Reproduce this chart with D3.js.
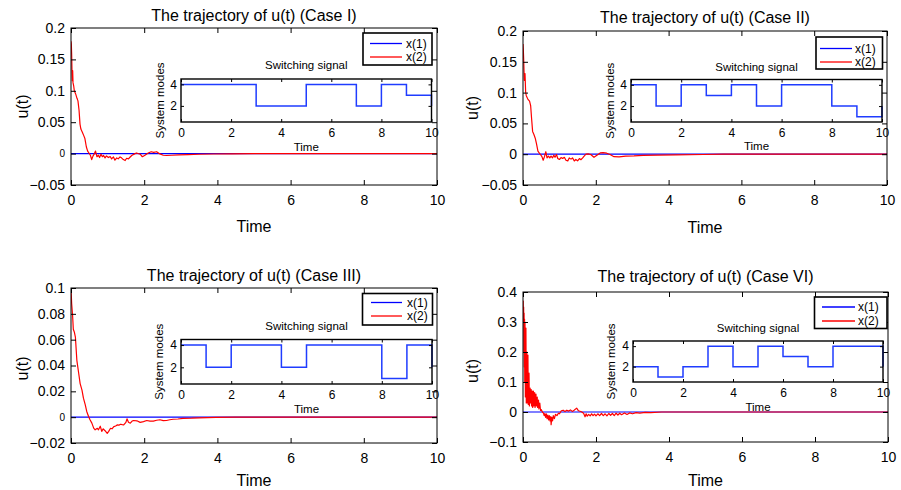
<!DOCTYPE html>
<html>
<head>
<meta charset="utf-8">
<script src="https://cdn.jsdelivr.net/npm/d3@7"></script>
<style>
  body { margin: 0; background: #fff; }
  svg { display: block; font-family: "Liberation Sans", Arial, Helvetica, sans-serif; }
</style>
</head>
<body>
<svg id="fig" width="901" height="490"></svg>
<script>
// ---------------- data ----------------
const timeTicks = [0, 2, 4, 6, 8, 10];
const modeTicks = [2, 4];
const modeTimes = [0, 1, 2, 3, 4, 5, 6, 7, 8, 9, 10];
const seriesNames = ["x(1)", "x(2)"];
const caseTitles = [
  "The trajectory of u(t) (Case I)",
  "The trajectory of u(t) (Case II)",
  "The trajectory of u(t) (Case III)",
  "The trajectory of u(t) (Case VI)"
];
const uTicksI = [-0.05, 0, 0.05, 0.1, 0.15, 0.2];
const uTicksII = [-0.05, 0, 0.05, 0.1, 0.15, 0.2];
const uTicksIII = [-0.02, 0, 0.02, 0.04, 0.06, 0.08, 0.1];
const uTicksVI = [-0.1, 0, 0.1, 0.2, 0.3, 0.4];

// x(1) sits on zero over the whole run
const x1Flat = [[0, 0], [10, 0]];

// x(2), [time, value]
const x2CaseI = [
  [0, 0.179], [0.009, 0.174], [0.018, 0.158], [0.027, 0.132], [0.036, 0.116], [0.046, 0.132],
  [0.055, 0.113], [0.073, 0.108], [0.091, 0.1], [0.127, 0.095], [0.164, 0.088], [0.19, 0.084],
  [0.22, 0.069], [0.246, 0.047], [0.27, 0.039], [0.31, 0.034], [0.346, 0.029], [0.38, 0.024],
  [0.42, 0.0105], [0.455, 0.004], [0.49, 0.001], [0.53, -0.0026], [0.565, -0.0095], [0.6, -0.004],
  [0.64, 0], [0.67, 0.004], [0.71, -0.005], [0.75, -0.0026], [0.78, -0.0063], [0.82, -0.001],
  [0.856, -0.005], [0.89, -0.003], [0.93, -0.0068], [0.97, -0.0037], [1.02, -0.0063], [1.07, -0.0047],
  [1.11, -0.0084], [1.16, -0.0053], [1.2, -0.0105], [1.25, -0.0068], [1.29, -0.0084], [1.34, -0.0053],
  [1.38, -0.0068], [1.43, -0.0095], [1.48, -0.011], [1.52, -0.0074], [1.57, -0.0084], [1.61, -0.0058],
  [1.66, -0.003], [1.7, -0.0016], [1.75, 0], [1.79, 0.001], [1.89, -0.001], [1.95, -0.005],
  [2.02, -0.0026], [2.11, 0.001], [2.19, 0.003], [2.26, 0.002], [2.34, 0.003], [2.43, -0.0005],
  [2.52, -0.0026], [2.61, -0.003], [2.75, -0.0026], [2.95, -0.002], [3.2, -0.0015], [3.5, -0.001],
  [3.9, -0.0006], [4.4, -0.0003], [5, 0], [10, 0]
];
const x2CaseII = [
  [0, 0.179], [0.009, 0.169], [0.018, 0.155], [0.036, 0.12], [0.055, 0.131], [0.073, 0.101],
  [0.09, 0.095], [0.136, 0.089], [0.18, 0.086], [0.21, 0.079], [0.236, 0.058], [0.264, 0.037],
  [0.3, 0.032], [0.336, 0.026], [0.37, 0.017], [0.41, 0.005], [0.445, 0.002], [0.48, -0.0005],
  [0.52, -0.004], [0.555, -0.0097], [0.59, -0.004], [0.627, 0.004], [0.66, -0.006], [0.7, -0.003],
  [0.736, -0.006], [0.77, -0.003], [0.81, -0.006], [0.845, -0.0016], [0.88, -0.005], [0.92, -0.0005],
  [0.955, -0.007], [1.0, -0.0086], [1.045, -0.0054], [1.09, -0.007], [1.136, -0.005], [1.18, -0.0097],
  [1.23, -0.011], [1.27, -0.006], [1.32, -0.008], [1.36, -0.006], [1.41, -0.011], [1.45, -0.0086],
  [1.5, -0.0108], [1.55, -0.007], [1.59, -0.009], [1.64, -0.006], [1.68, -0.003], [1.73, 0],
  [1.79, 0.0005], [1.86, -0.0005], [1.95, -0.005], [2.03, -0.0016], [2.12, 0.002], [2.2, 0.0027],
  [2.3, 0.0016], [2.39, -0.0005], [2.5, -0.004], [2.64, -0.0043], [2.82, -0.003], [3.05, -0.0027],
  [3.3, -0.002], [3.7, -0.0016], [4.2, -0.001], [4.95, -0.0005], [5.5, 0], [10, 0]
];
const x2CaseIII = [
  [0, 0.0986], [0.009, 0.094], [0.018, 0.088], [0.045, 0.078], [0.063, 0.068], [0.09, 0.066],
  [0.12, 0.062], [0.16, 0.044], [0.21, 0.034], [0.25, 0.026], [0.3, 0.021], [0.34, 0.0147],
  [0.39, 0.0095], [0.43, 0.0044], [0.48, 0.0005], [0.52, -0.002], [0.57, -0.0046], [0.62, -0.0085],
  [0.66, -0.0098], [0.7, -0.009], [0.72, -0.0086], [0.75, -0.0098], [0.8, -0.007], [0.84, -0.011],
  [0.88, -0.009], [0.93, -0.0105], [0.99, -0.0125], [1.03, -0.011], [1.08, -0.0086], [1.12, -0.009],
  [1.17, -0.0073], [1.22, -0.0068], [1.26, -0.006], [1.31, -0.0062], [1.35, -0.0055], [1.4, -0.0058],
  [1.44, -0.006], [1.5, -0.004], [1.53, -0.0013], [1.57, -0.004], [1.62, -0.0047], [1.67, -0.003],
  [1.71, -0.0026], [1.8, -0.0028], [1.89, -0.004], [1.98, -0.0034], [2.07, -0.0026], [2.16, -0.003],
  [2.25, -0.003], [2.34, -0.0024], [2.43, -0.002], [2.52, -0.0027], [2.61, -0.0026], [2.7, -0.002],
  [2.79, -0.0016], [2.92, -0.0014], [3.06, -0.001], [3.3, -0.0008], [3.5, -0.0005], [3.96, -0.0002],
  [4.5, 0], [10, 0]
];
const x2CaseVI = [
  [0, 0.3], [0.005, 0.37], [0.012, 0.3], [0.018, 0.35], [0.024, 0.2], [0.03, 0.33],
  [0.036, 0.15], [0.042, 0.31], [0.048, 0.1], [0.055, 0.3], [0.065, 0.05], [0.08, 0.28],
  [0.09, 0.03], [0.105, 0.2], [0.115, 0.03], [0.135, 0.19], [0.145, 0.025], [0.165, 0.13],
  [0.175, 0.02], [0.195, 0.08], [0.205, 0.03], [0.225, 0.075], [0.235, 0.02], [0.255, 0.07],
  [0.265, 0.015], [0.285, 0.07], [0.295, 0.02], [0.32, 0.065], [0.33, 0.015], [0.355, 0.06],
  [0.365, 0.02], [0.39, 0.05], [0.4, 0.015], [0.425, 0.04], [0.435, 0.01], [0.46, 0.03],
  [0.48, 0.005], [0.5, 0.008],
  [0.53, 0.0], [0.56, -0.004], [0.58, -0.012], [0.6, -0.005], [0.62, -0.018], [0.64, -0.006],
  [0.66, -0.022], [0.68, -0.01], [0.7, -0.026], [0.72, -0.012], [0.74, -0.03], [0.76, -0.015],
  [0.77, -0.042], [0.79, -0.018], [0.81, -0.03], [0.83, -0.012], [0.86, -0.022], [0.89, -0.008],
  [0.93, -0.012], [0.97, -0.004], [1.0, -0.006], [1.05, 0.004], [1.1, 0.006], [1.15, 0.002],
  [1.2, 0.006], [1.25, 0.003], [1.3, 0.007], [1.35, 0.002], [1.4, 0.006], [1.47, 0.013],
  [1.52, 0.004], [1.6, 0.001], [1.66, -0.004], [1.7, -0.016], [1.73, -0.006], [1.76, -0.014],
  [1.8, -0.008], [1.84, -0.013], [1.88, -0.006], [1.92, -0.012], [1.96, -0.007], [2.0, -0.013],
  [2.05, -0.006], [2.1, -0.012], [2.15, -0.005], [2.2, -0.012], [2.25, -0.006], [2.3, -0.013],
  [2.35, -0.005], [2.4, -0.011], [2.45, -0.005], [2.5, -0.012], [2.55, -0.004], [2.6, -0.01],
  [2.65, -0.004], [2.7, -0.009], [2.78, -0.003], [2.85, -0.008], [2.92, -0.003], [3.0, -0.006],
  [3.1, -0.002], [3.2, -0.004], [3.35, -0.001], [3.5, -0.002], [3.8, 0], [10, 0]
];

// switching signal: active mode from each whole second on (last entry is the value at t = 10)
const modesCaseI = [4, 4, 4, 2, 2, 4, 4, 2, 4, 3, 2];
const modesCaseII = [4, 2, 4, 3, 4, 2, 4, 4, 2, 1, 2];
const modesCaseIII = [4, 2, 4, 4, 2, 4, 4, 4, 1, 4, 2];
const modesCaseVI = [2, 1, 2, 4, 2, 4, 3, 2, 4, 4, 2];

// ---------------- layout ----------------
const panels = [
  { title: caseTitles[0], traj: x2CaseI, modes: modesCaseI, uTicks: uTicksI, uDomain: [-0.05, 0.2], smallZero: true,
    plot: { x0: 71, x1: 437, y0: 28, y1: 185 }, titleY: 21, xlabY: 232, ylabX: 28, ylabDy: 0,
    inset: { x0: 181, x1: 431.5, y0: 79, y1: 122, titleY: 69, tickY: 136.7, xlabY: 150.5, ylabX: 163.5 },
    legend: { x0: 363, x1: 432, y0: 33, y1: 65, rows: [43.5, 57], l0: 370, l1: 402, tx: 406 } },
  { title: caseTitles[1], traj: x2CaseII, modes: modesCaseII, uTicks: uTicksII, uDomain: [-0.05, 0.2], smallZero: false,
    plot: { x0: 523, x1: 887, y0: 31, y1: 185 }, titleY: 22.5, xlabY: 233, ylabX: 478, ylabDy: 0,
    inset: { x0: 631, x1: 882, y0: 79.5, y1: 122, titleY: 71, tickY: 136.5, xlabY: 150, ylabX: 613.5 },
    legend: { x0: 816, x1: 882.5, y0: 37, y1: 69, rows: [48.5, 62], l0: 820, l1: 852, tx: 855 } },
  { title: caseTitles[2], traj: x2CaseIII, modes: modesCaseIII, uTicks: uTicksIII, uDomain: [-0.02, 0.1], smallZero: true,
    plot: { x0: 71, x1: 437, y0: 288, y1: 443 }, titleY: 281, xlabY: 486, ylabX: 28, ylabDy: 3,
    inset: { x0: 181, x1: 432, y0: 339.5, y1: 384, titleY: 330, tickY: 399, xlabY: 412.5, ylabX: 163 },
    legend: { x0: 362.5, x1: 432.5, y0: 293.5, y1: 325, rows: [302.5, 316], l0: 371, l1: 402, tx: 407 } },
  { title: caseTitles[3], traj: x2CaseVI, modes: modesCaseVI, uTicks: uTicksVI, uDomain: [-0.1, 0.4], smallZero: false,
    plot: { x0: 523, x1: 888, y0: 292, y1: 442 }, titleY: 282, xlabY: 486, ylabX: 478, ylabDy: 4,
    inset: { x0: 633, x1: 883, y0: 341, y1: 382, titleY: 331.5, tickY: 396.5, xlabY: 410.5, ylabX: 614.5 },
    legend: { x0: 814.5, x1: 887, y0: 297, y1: 328.5, rows: [307, 321], l0: 822, l1: 855, tx: 858 } }
];

const BLUE = "#0000ff";
const RED = "#ff0000";
const svg = d3.select("#fig");
const defs = svg.append("defs");
const fmtU = d3.format("~g");

function styleAxis(sel, size) {
  sel.attr("font-family", null).attr("font-size", size);
  sel.select(".domain").remove();
  sel.selectAll(".tick line").attr("stroke", "#000").attr("stroke-width", 1);
  sel.selectAll(".tick text").attr("fill", "#000");
}

panels.forEach((p, idx) => {
  const g = svg.append("g");
  const P = p.plot;
  const x = d3.scaleLinear().domain([0, 10]).range([P.x0, P.x1]);
  const y = d3.scaleLinear().domain(p.uDomain).range([P.y1, P.y0]);

  defs.append("clipPath").attr("id", "clip" + idx)
    .append("rect").attr("x", P.x0).attr("y", P.y0).attr("width", P.x1 - P.x0).attr("height", P.y1 - P.y0);

  const line = d3.line().x(d => x(d[0])).y(d => y(d[1]));
  const curves = g.append("g").attr("clip-path", `url(#clip${idx})`);
  curves.append("path").datum(x1Flat).attr("d", line)
    .attr("fill", "none").attr("stroke", BLUE).attr("stroke-width", 1.2);
  curves.append("path").datum(p.traj).attr("d", line)
    .attr("fill", "none").attr("stroke", RED).attr("stroke-width", 1.2).attr("stroke-linejoin", "round");

  // axes with inward ticks on all four sides
  g.append("g").attr("transform", `translate(0,${P.y1})`)
    .call(d3.axisBottom(x).tickValues(timeTicks).tickSize(-5).tickPadding(10).tickFormat(d3.format("d")))
    .call(s => styleAxis(s, 14));
  g.append("g").attr("transform", `translate(0,${P.y0})`)
    .call(d3.axisTop(x).tickValues(timeTicks).tickSize(-5).tickFormat(""))
    .call(s => styleAxis(s, 14));
  const yAx = g.append("g").attr("transform", `translate(${P.x0},0)`)
    .call(d3.axisLeft(y).tickValues(p.uTicks).tickSize(-5).tickPadding(6).tickFormat(fmtU))
    .call(s => styleAxis(s, 14));
  if (p.smallZero) yAx.selectAll(".tick text").filter(d => d === 0).attr("font-size", 10);
  g.append("g").attr("transform", `translate(${P.x1},0)`)
    .call(d3.axisRight(y).tickValues(p.uTicks).tickSize(-5).tickFormat(""))
    .call(s => styleAxis(s, 14));
  g.append("rect").attr("x", P.x0).attr("y", P.y0).attr("width", P.x1 - P.x0).attr("height", P.y1 - P.y0)
    .attr("fill", "none").attr("stroke", "#000").attr("stroke-width", 1);

  // titles and labels
  const cx = (P.x0 + P.x1) / 2;
  g.append("text").attr("x", cx).attr("y", p.titleY).attr("text-anchor", "middle")
    .attr("font-size", 16).text(p.title);
  g.append("text").attr("x", cx).attr("y", p.xlabY).attr("text-anchor", "middle")
    .attr("font-size", 16).text("Time");
  g.append("text").attr("transform", `translate(${p.ylabX},${(P.y0 + P.y1) / 2 + p.ylabDy}) rotate(-90)`)
    .attr("text-anchor", "middle").attr("font-size", 16).text("u(t)");

  // legend
  const L = p.legend;
  g.append("rect").attr("x", L.x0).attr("y", L.y0).attr("width", L.x1 - L.x0).attr("height", L.y1 - L.y0)
    .attr("fill", "#fff").attr("stroke", "#000").attr("stroke-width", 1.6);
  [BLUE, RED].forEach((c, i) => {
    g.append("line").attr("x1", L.l0).attr("x2", L.l1).attr("y1", L.rows[i]).attr("y2", L.rows[i])
      .attr("stroke", c).attr("stroke-width", 1.3);
    g.append("text").attr("x", L.tx).attr("y", L.rows[i]).attr("dy", "0.35em")
      .attr("font-size", 12).text(seriesNames[i]);
  });

  // switching-signal inset
  const I = p.inset;
  const ix = d3.scaleLinear().domain([0, 10]).range([I.x0, I.x1]);
  const iy = d3.scaleLinear().domain([0.5, 4.5]).range([I.y1, I.y0]);
  g.append("rect").attr("x", I.x0).attr("y", I.y0).attr("width", I.x1 - I.x0).attr("height", I.y1 - I.y0)
    .attr("fill", "#fff");
  const step = d3.line().curve(d3.curveStepAfter).x(d => ix(d[0])).y(d => iy(d[1]));
  g.append("path").datum(d3.zip(modeTimes, p.modes)).attr("d", step)
    .attr("fill", "none").attr("stroke", "#1f3cff").attr("stroke-width", 1.5);
  g.append("g").attr("transform", `translate(0,${I.y1})`)
    .call(d3.axisBottom(ix).tickValues(timeTicks).tickSize(-3).tickPadding(I.tickY - I.y1 - 8.5).tickFormat(d3.format("d")))
    .call(s => styleAxis(s, 12));
  g.append("g").attr("transform", `translate(0,${I.y0})`)
    .call(d3.axisTop(ix).tickValues(timeTicks).tickSize(-3).tickFormat(""))
    .call(s => styleAxis(s, 12));
  g.append("g").attr("transform", `translate(${I.x0},0)`)
    .call(d3.axisLeft(iy).tickValues(modeTicks).tickSize(-3).tickPadding(4).tickFormat(d3.format("d")))
    .call(s => styleAxis(s, 12));
  g.append("g").attr("transform", `translate(${I.x1},0)`)
    .call(d3.axisRight(iy).tickValues(modeTicks).tickSize(-3).tickFormat(""))
    .call(s => styleAxis(s, 12));
  g.append("rect").attr("x", I.x0).attr("y", I.y0).attr("width", I.x1 - I.x0).attr("height", I.y1 - I.y0)
    .attr("fill", "none").attr("stroke", "#000").attr("stroke-width", 1.4);
  const icx = (I.x0 + I.x1) / 2;
  g.append("text").attr("x", icx).attr("y", I.titleY).attr("text-anchor", "middle")
    .attr("font-size", 11.5).text("Switching signal");
  g.append("text").attr("x", icx).attr("y", I.xlabY).attr("text-anchor", "middle")
    .attr("font-size", 11.5).text("Time");
  g.append("text").attr("transform", `translate(${I.ylabX},${(I.y0 + I.y1) / 2}) rotate(-90)`)
    .attr("text-anchor", "middle").attr("font-size", 11.5).text("System modes");
});
</script>
</body>
</html>
